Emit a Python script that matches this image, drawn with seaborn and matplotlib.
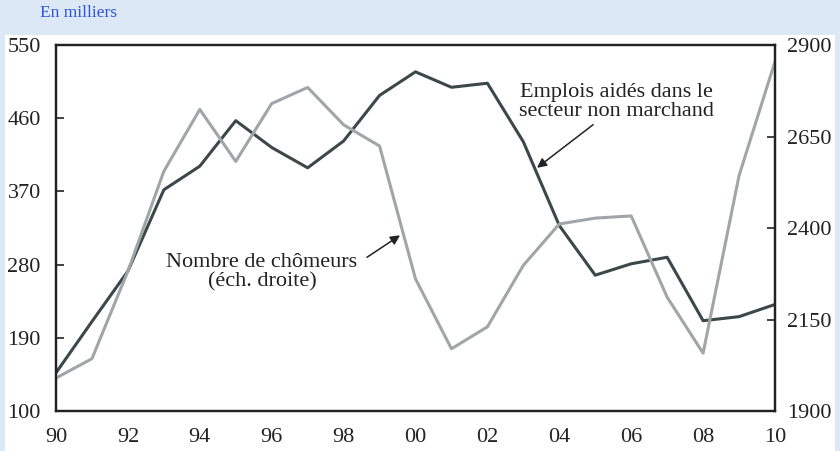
import numpy as np
import pandas as pd
import seaborn as sns
import matplotlib.pyplot as plt
from matplotlib.patches import Rectangle

# Data
years = list(range(1990, 2011))
emplois_aides = [147, 210, 272, 372, 401, 457, 424, 399, 432, 488,
                 517, 498, 503, 431, 328, 267, 281, 289, 211, 216, 231]
chomeurs = [1990, 2043, 2282, 2555, 2724, 2582, 2740, 2784, 2682, 2624,
            2261, 2070, 2130, 2298, 2411, 2427, 2433, 2211, 2058, 2543, 2855]
left_ticks = [100, 190, 280, 370, 460, 550]
right_ticks = [1900, 2150, 2400, 2650, 2900]
xtick_labels = ["90", "92", "94", "96", "98", "00", "02", "04", "06", "08", "10"]

df = pd.DataFrame({"annee": years, "emplois": emplois_aides, "chomeurs": chomeurs})

sns.set_style("white")
plt.rcParams['font.family'] = ['Liberation Serif', 'DejaVu Serif']

fig = plt.figure(figsize=(8.4, 4.51), dpi=100)
fig.patch.set_facecolor('#dde8f7')
# white panel behind the chart
fig.add_artist(Rectangle((5 / 840, 0), 830 / 840, 416 / 451, transform=fig.transFigure,
                         facecolor='white', edgecolor='none', zorder=0))
fig.text(40 / 840, 1 - 13 / 451, "En milliers", color='#2a55d8', fontsize=12.5,
         ha='left', va='center')

ax = fig.add_axes([56 / 840, 40 / 451, 719 / 840, 366 / 451])
ax.set_facecolor('none')
ax2 = ax.twinx()

dark = '#3c4848'
grey = '#a0a5aa'

sns.lineplot(data=df, x="annee", y="emplois", ax=ax, color=dark, linewidth=2.2)
sns.lineplot(data=df, x="annee", y="chomeurs", ax=ax2, color=grey, linewidth=2.2)

ax.set_xlim(1990, 2010)
ax.set_ylim(100, 550)
ax2.set_ylim(1900, 2900)
ax.set_xticks(years)
ax.set_xticklabels([xtick_labels[i // 2] if i % 2 == 0 else "" for i in range(len(years))])
ax.set_yticks(left_ticks)
ax2.set_yticks(right_ticks)
ax.set_xlabel("")
ax.set_ylabel("")
ax2.set_ylabel("")

for a in (ax, ax2):
    for s in a.spines.values():
        s.set_visible(True)
        s.set_color('#222222')
        s.set_linewidth(1.6)
ax.tick_params(axis='both', direction='in', length=6, width=1.2, color='#222222',
               labelsize=16, labelcolor='#222222')
ax.tick_params(axis='x', pad=12)
ax.tick_params(axis='y', pad=11)
ax2.tick_params(axis='y', direction='in', length=6, width=1.2, color='#222222',
                labelsize=16, labelcolor='#222222', pad=9)

# annotations (positions in left-axis data units)
ax.text(2005.6, 480, "Emplois aidés dans le\nsecteur non marchand", ha='center',
        va='center', fontsize=16, color='#222222', linespacing=1.0)
ax.annotate("", xy=(2003.38, 399), xytext=(2004.94, 452),
            arrowprops=dict(arrowstyle='-|>', color='#222222', lw=1.1,
                            shrinkA=0, shrinkB=0, mutation_scale=14))
ax.text(1995.73, 271, "Nombre de chômeurs\n(éch. droite)", ha='center',
        va='center', fontsize=16, color='#222222', linespacing=1.0)
ax.annotate("", xy=(1999.57, 316), xytext=(1998.65, 289),
            arrowprops=dict(arrowstyle='-|>', color='#222222', lw=1.1,
                            shrinkA=0, shrinkB=0, mutation_scale=14))

fig.savefig("out.png", dpi=100, facecolor=fig.get_facecolor())
